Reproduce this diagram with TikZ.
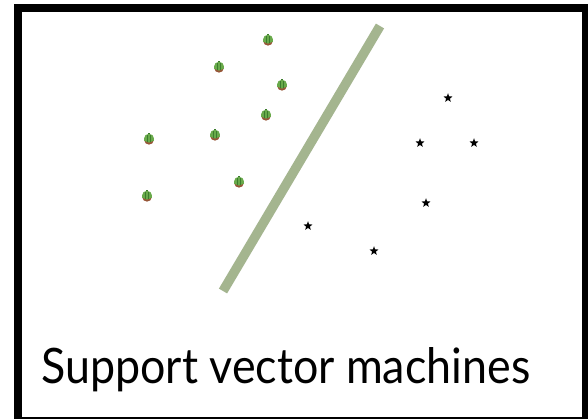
\documentclass[tikz,border=0pt]{standalone}
\usepackage{fontspec}
\setmainfont{Lato}
\usetikzlibrary{shapes.geometric}
\definecolor{sage}{RGB}{164,181,143}
\definecolor{pepgreen}{RGB}{105,170,75}
\definecolor{pepdark}{RGB}{60,125,45}
\definecolor{pepbrown}{RGB}{150,85,55}
\tikzset{
  starpt/.style={star, star points=5, star point ratio=2.4, fill=black, draw=none, minimum size=9.5pt, inner sep=0pt},
  pepper/.pic={
    \fill[pepbrown] (0,1.6) ellipse (4.6pt and 4pt);
    \fill[pepgreen] (0,-0.8) ellipse (4.9pt and 4.4pt);
    \fill[pepgreen] (-4.9,-0.8) rectangle (4.9,2.4);
    \draw[pepdark, line width=0.7pt] (-1.8,-4) -- (-1.8,2.6) (1.6,-4) -- (1.6,2.6);
    \fill[pepdark] (-0.8,-4.8) rectangle (0.8,-6.2);
  }
}
\begin{document}
\begin{tikzpicture}[x=1pt,y=-1pt]
\useasboundingbox (0,0) rectangle (588,419);
\fill[white] (0,0) rectangle (588,419);
\fill[black] (14,4) rectangle (588,419);
\fill[white] (22,12) rectangle (582,417);
% separating line
\coordinate (ltop) at (380,26);
\coordinate (lbot) at (223,291);
\draw[sage, line width=9.5pt] (ltop) -- (lbot);
% peppers
\foreach \n/\x/\y in {p1/268/40, p2/219/67, p3/282/85, p4/266/115, p5/215/135, p6/149/139, p7/239/182, p8/147/196}{
  \pic (\n) at (\x,\y) {pepper};
}
% stars
\foreach \n/\x/\y in {s1/448/98, s2/420/143, s3/474/143, s4/426/203, s5/308/226, s6/374/251}{
  \node[starpt] (\n) at (\x,\y) {};
}
\node[anchor=base west, inner sep=0pt] (title) at (41,383) {\resizebox{489pt}{36pt}{\fontsize{46}{50}\selectfont Support vector machines}};
\end{tikzpicture}
\end{document}
